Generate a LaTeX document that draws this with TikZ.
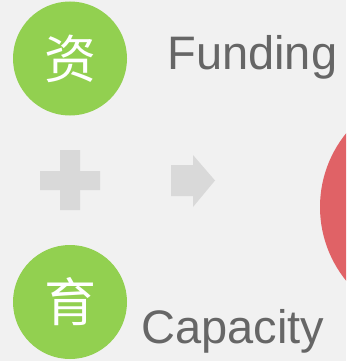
\documentclass[tikz,border=0pt]{standalone}
\usepackage{fontspec}
\setmainfont{Liberation Sans}
\newfontfamily\cjk{Noto Sans CJK SC}
\definecolor{bgGray}{RGB}{241,241,241}
\definecolor{leafGreen}{RGB}{146,208,80}
\definecolor{roseRed}{RGB}{224,98,102}
\definecolor{iconGray}{RGB}{217,217,217}
\definecolor{textGray}{RGB}{102,102,102}
\tikzset{every picture/.style={line width=0.75pt}}
\tikzset{
  badge/.style={circle, fill=leafGreen, minimum size=114, inner sep=0, text=white, font=\cjk\fontsize{52}{52}\selectfont},
  caption/.style={anchor=base west, inner sep=0, text=textGray, font=\fontsize{47}{50}\selectfont},
  icon/.style={fill=iconGray, draw=none}
}

\begin{document}
\begin{tikzpicture}[x=1pt,y=1pt,yscale=-1,xscale=1]
	%set diagram to the size of the reference
	\useasboundingbox (0,0) rectangle (346,361);
	\fill [bgGray] (0,0) rectangle (346,361);
	\clip (0,0) rectangle (346,361);

	%Shape: Circle [red, cut off at the right]
	\node [circle, fill=roseRed, minimum size=234, inner sep=0] (goal) at (437,207) {};

	%Shape: Circle [top]
	\node [badge] (zi) at (70,58.5) {资};
	%Shape: Circle [bottom]
	\node [badge] (yu) at (70,302) {育};

	% Text Node
	\node [caption] (funding) at (167,70) {Funding};
	% Text Node
	\node [caption] (capacity) at (141,343) {Capacity};

	%Shape: Plus
	\path [icon] (60,150) -- (80,150) -- (80,171) -- (100,171) -- (100,190) -- (80,190) -- (80,210) -- (60,210) -- (60,190) -- (40,190) -- (40,171) -- (60,171) -- cycle ;
	%Shape: Right Arrow
	\path [icon] (171,165) -- (193,165) -- (193,155) -- (215,180.5) -- (193,207) -- (193,196) -- (171,196) -- cycle ;

\end{tikzpicture}
\end{document}
